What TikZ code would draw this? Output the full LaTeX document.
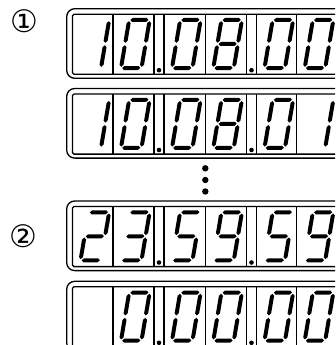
\documentclass[tikz,border=0pt]{standalone}
\usepackage{fontspec}
\newfontfamily\symfont{DejaVu Sans}
\tikzset{
  frame/.style={line width=1.3pt},
  cellline/.style={line width=1.3pt},
  circnum/.style={inner sep=0pt, font=\symfont\fontsize{31}{31}\selectfont},
  sepdot/.style={fill=black},
}
% segments in the upright digit frame (y up, origin = bottom-left stroke centre)
\newcommand\hsegm[1]{\fill (1.2,#1) -- (3.2,#1+2) -- (17.3,#1+2) -- (19.3,#1) -- (17.3,#1-2) -- (3.2,#1-2) -- cycle;}
\newcommand\vsegm[3]{\fill (#1,#2) -- (#1+2,#2+2) -- (#1+2,#3-2) -- (#1,#3) -- (#1-2,#3-2) -- (#1-2,#2+2) -- cycle;}
\newcommand\sgA{\hsegm{48}}
\newcommand\sgD{\hsegm{0}}
\newcommand\sgG{\hsegm{24}}
\newcommand\sgF{\vsegm{0}{25.2}{46.8}}
\newcommand\sgE{\vsegm{0}{1.2}{22.8}}
\newcommand\sgB{\vsegm{20.5}{25.2}{46.8}}
\newcommand\sgC{\vsegm{20.5}{1.2}{22.8}}
\newcommand\dgZero{\sgA\sgB\sgC\sgD\sgE\sgF}
\newcommand\dgOne{\sgB\sgC}
\newcommand\dgTwo{\sgA\sgB\sgG\sgE\sgD}
\newcommand\dgThree{\sgA\sgB\sgG\sgC\sgD}
\newcommand\dgFive{\sgA\sgF\sgG\sgC\sgD}
\newcommand\dgEight{\sgA\sgB\sgC\sgD\sgE\sgF\sgG}
\newcommand\dgNine{\sgA\sgB\sgC\sgD\sgF\sgG}
% #1 cell left, #2 display top, #3 segments
\newcommand\digitat[3]{\begin{scope}[shift={(#1+8,#2+59.3)},y=1pt,xslant=0.17]#3\end{scope}}
% display frame, #1 = top
\newcommand\dispframe[1]{%
  \draw[frame, rounded corners=8pt] (66.7,#1) rectangle (360,#1+69.6);
  \draw[frame, rounded corners=1.5pt] (72.5,#1+5.5) rectangle (345,#1+65.6);
  \foreach \xx in {113,154,164,205.3,246.5,256.5,296.7,338}
    \draw[cellline] (\xx,#1+5.5) -- (\xx,#1+65.6);
  \fill[sepdot] (159,#1+61.5) circle (2.3);
  \fill[sepdot] (251.5,#1+61.5) circle (2.3);
}
\begin{document}
\begin{tikzpicture}[x=1pt,y=-1pt]
  \useasboundingbox (0,0) rectangle (335,345);
  \clip (0,0) rectangle (335,345);
  \fill[white] (0,0) rectangle (335,345);

  \node[circnum] (n1) at (24,21.5) {①};
  \node[circnum] (n2) at (23,236.5) {②};

  % display 1: 10.08.00
  \dispframe{8.7}
  \digitat{72.5}{8.7}{\dgOne}
  \digitat{113}{8.7}{\dgZero}
  \digitat{164}{8.7}{\dgZero}
  \digitat{205.3}{8.7}{\dgEight}
  \digitat{256.5}{8.7}{\dgZero}
  \digitat{296.7}{8.7}{\dgZero}

  % display 2: 10.08.01
  \dispframe{88.5}
  \digitat{72.5}{88.5}{\dgOne}
  \digitat{113}{88.5}{\dgZero}
  \digitat{164}{88.5}{\dgZero}
  \digitat{205.3}{88.5}{\dgEight}
  \digitat{256.5}{88.5}{\dgZero}
  \digitat{296.7}{88.5}{\dgOne}

  % vertical ellipsis
  \fill[sepdot] (205.3,168.3) circle (3.2);
  \fill[sepdot] (205.3,180) circle (3.2);
  \fill[sepdot] (205.3,191.5) circle (3.2);

  % display 3: 23.59.59
  \dispframe{201}
  \digitat{72.5}{201}{\dgTwo}
  \digitat{113}{201}{\dgThree}
  \digitat{164}{201}{\dgFive}
  \digitat{205.3}{201}{\dgNine}
  \digitat{256.5}{201}{\dgFive}
  \digitat{296.7}{201}{\dgNine}

  % display 4:  0.00.00
  \dispframe{281.3}
  \digitat{113}{281.3}{\dgZero}
  \digitat{164}{281.3}{\dgZero}
  \digitat{205.3}{281.3}{\dgZero}
  \digitat{256.5}{281.3}{\dgZero}
  \digitat{296.7}{281.3}{\dgZero}
\end{tikzpicture}
\end{document}
